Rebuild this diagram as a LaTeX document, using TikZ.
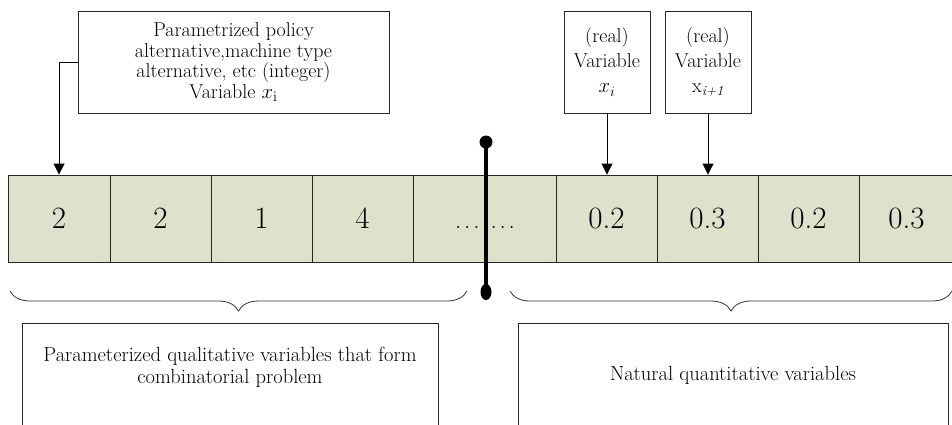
\documentclass[tikz,border=0pt]{standalone}
\usetikzlibrary{arrows.meta,decorations.pathreplacing}
\definecolor{cellfill}{RGB}{221,226,205}
\begin{document}
\begin{tikzpicture}[x=1pt,y=-1pt,
  cell/.style={draw=black!85,line width=0.9pt,fill=cellfill,rectangle,minimum height=87pt,inner sep=0pt,
    font=\fontsize{31}{33}\selectfont},
  infobox/.style={draw=black!85,line width=0.9pt,fill=white,rectangle,inner sep=0pt,align=center,
    font=\fontsize{20}{20.5}\selectfont},
  realbox/.style={infobox,minimum width=86pt,minimum height=102pt,font=\fontsize{20}{25}\selectfont},
  groupbox/.style={draw=black!85,line width=0.9pt,fill=white,rectangle,inner sep=0pt},
  grouptext/.style={align=center,font=\fontsize{20.5}{22}\selectfont},
  arr/.style={line width=0.9pt,-{Triangle[width=11pt,length=11pt]}},
  bracedec/.style={decorate,decoration={brace,mirror,amplitude=20pt,aspect=0.5},line width=0.8pt,black!80}]
\clip (0,0) rectangle (952,424);
\fill[white] (0,0) rectangle (952,424);

% chromosome cells
\foreach \l/\r/\t [count=\k] in {8/110/2, 110/211/2, 211/312/1, 312/413/4, 413/556/{},
    556/657/0.2, 657/758/0.3, 758/859/0.2, 859/954/0.3}
  \node[cell,minimum width={\r-\l}] (c\k) at ({(\l+\r)/2},218.5) {\t};
\node[font=\fontsize{25}{27}\selectfont,inner sep=0pt,anchor=base] (dots) at (485,228)
  {.\hspace{2.8pt}.\hspace{2.8pt}.\hspace{11pt}.\hspace{2.8pt}.\hspace{2.8pt}.};

% boundary between integer and real parts
\coordinate (dtop) at (486,142);
\coordinate (dbot) at (486,292);
\draw[line width=4pt] (dtop) -- (dbot);
\fill (dtop) circle (6.5);
\fill (dbot) ellipse (5.5 and 8);

% description boxes above the cells
\node[infobox,minimum width=311pt,minimum height=102pt] (pbox) at (233.5,62)
  {Parametrized policy\\alternative,machine type\\alternative, etc (integer)\\Variable $x_{\mathrm{i}}$};
\node[realbox] (rv1) at (607,62) {(real)\\Variable\\$x_i$};
\node[realbox] (rv2) at (708,62) {(real)\\Variable\\x\textsubscript{\itshape i+1}};

\draw[arr] (pbox.west) -| (c1.north);
\draw[arr] (rv1.south) -- (rv1.south |- c6.north);
\draw[arr] (rv2.south) -- (rv2.south |- c7.north);

% braces grouping the two parts
\coordinate (lb1) at (10,291);
\coordinate (lb2) at (467,291);
\coordinate (rb1) at (510,291);
\coordinate (rb2) at (952,291);
\draw[bracedec] (lb1) -- (lb2);
\draw[bracedec] (rb1) -- (rb2);

% group descriptions
\node[groupbox,minimum width=416pt,minimum height=130pt] (qual) at (230,388) {};
\node[grouptext] (qualtxt) at (230,367)
  {Parameterized qualitative variables that form\\combinatorial problem};
\node[groupbox,minimum width=430pt,minimum height=130pt] (quant) at (733,388) {};
\node[grouptext] (quanttxt) at (733,375) {Natural quantitative variables};
\end{tikzpicture}
\end{document}
